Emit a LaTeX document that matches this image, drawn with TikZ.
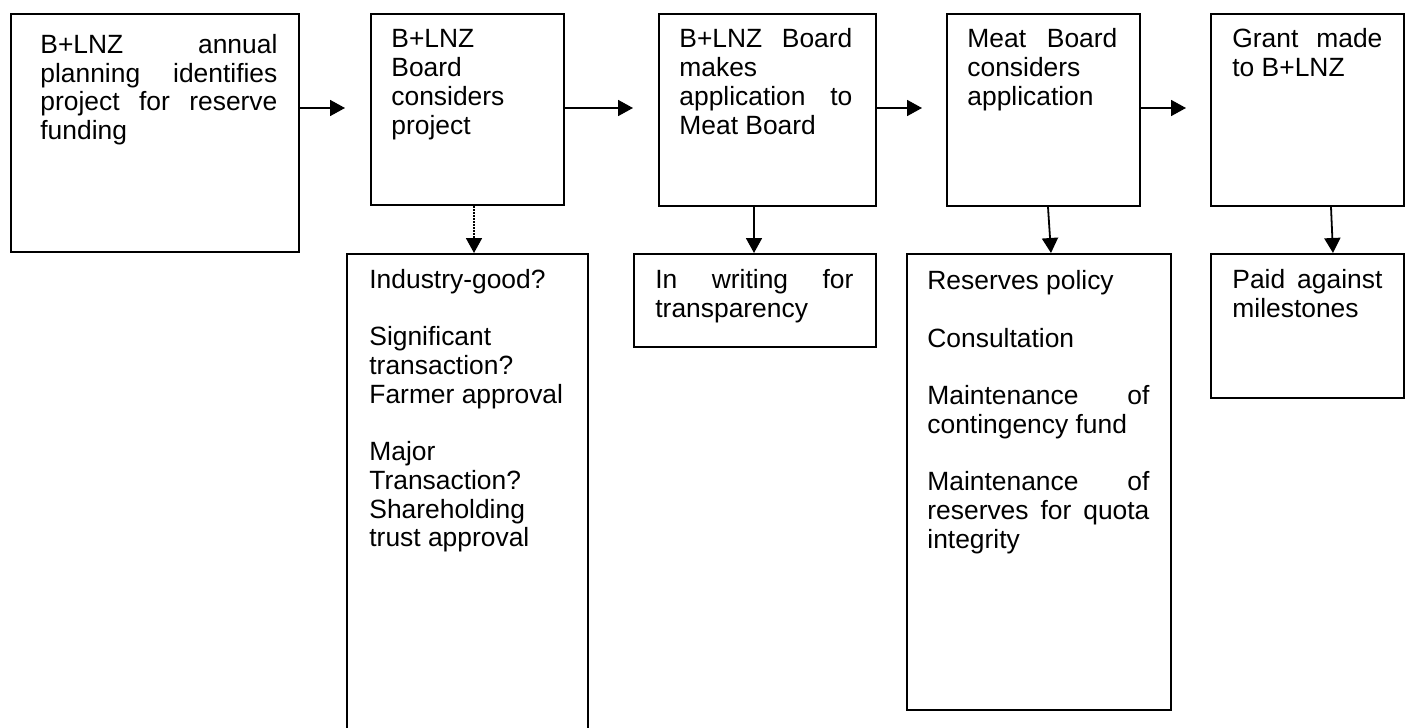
\documentclass[tikz,border=0pt]{standalone}
\usepackage{fontspec}
\setmainfont{Liberation Sans}
\usetikzlibrary{arrows.meta}
\newcommand\pgap{\par\vspace{\baselineskip}}
\tikzset{
  box/.style={draw=black, line width=1pt, inner sep=0pt, anchor=north west, rectangle},
  txt/.style={anchor=north west, inner sep=0pt, align=justify,
    font=\fontsize{13.2pt}{14.35pt}\selectfont,
    execute at begin node={\parindent=0pt\hyphenpenalty=10000\tolerance=10000\hbadness=10000\strut}},
  arr/.style={line width=0.9pt, -{Triangle[length=7.5pt,width=8pt]}},
  dotarr/.style={arr, dash pattern=on 0.75pt off 0.75pt}
}
\begin{document}
\begin{tikzpicture}[x=0.5pt,y=-0.5pt]
\useasboundingbox (0,0) rectangle (1410,728);
% upper boxes
\node[box, minimum width=144pt, minimum height=119pt] (b1) at (10,13) {};
\node[box, minimum width=96.5pt, minimum height=95.5pt] (b2) at (370,13) {};
\node[box, minimum width=108.5pt, minimum height=96pt] (b3) at (658,13) {};
\node[box, minimum width=96.5pt, minimum height=96pt] (b4) at (946,13) {};
\node[box, minimum width=96.5pt, minimum height=96pt] (b5) at (1210,13) {};
% lower boxes
\node[box, minimum width=120.5pt, minimum height=246pt] (c2) at (346,253) {};
\node[box, minimum width=121pt, minimum height=46.5pt] (c3) at (633,253) {};
\node[box, minimum width=132pt, minimum height=228pt] (c4) at (906,253) {};
\node[box, minimum width=96.5pt, minimum height=72pt] (c5) at (1210,253) {};
% texts
\node[txt, text width=118.5pt] (t1) at (40,33) {B+LNZ annual\linebreak planning identifies\linebreak project for reserve\linebreak funding};
\node[txt, text width=75.5pt] (t2) at (391,27.5) {B+LNZ\linebreak Board\linebreak considers\linebreak project};
\node[txt, text width=86.5pt] (t3) at (679,27.5) {B+LNZ Board\linebreak makes\linebreak application to\linebreak Meat Board};
\node[txt, text width=75pt] (t4) at (967,27.5) {Meat Board\linebreak considers\linebreak application};
\node[txt, text width=75pt] (t5) at (1232,27.5) {Grant made\linebreak to B+LNZ};
\node[txt, text width=99pt] (u2) at (369,268) {Industry-good?\pgap Significant\linebreak transaction?\linebreak Farmer approval\pgap Major\linebreak Transaction?\linebreak Shareholding\linebreak trust approval};
\node[txt, text width=99pt] (u3) at (655,268) {In writing for\linebreak transparency};
\node[txt, text width=111pt] (u4) at (927,269.5) {Reserves policy\pgap Consultation\pgap Maintenance of\linebreak contingency fund\pgap Maintenance of\linebreak reserves for quota\linebreak integrity};
\node[txt, text width=75pt] (u5) at (1232,268) {Paid against\linebreak milestones};
% horizontal arrows
\coordinate (ay) at (0,108);
\draw[arr, shorten >=12.5pt] (b1.east |- ay) -- (b2.west |- ay);
\draw[arr, shorten >=12.5pt] (b2.east |- ay) -- (b3.west |- ay);
\draw[arr, shorten >=12pt] (b3.east |- ay) -- (b4.west |- ay);
\draw[arr, shorten >=12pt] (b4.east |- ay) -- (b5.west |- ay);
% vertical arrows
\coordinate (v2) at (474,0);
\coordinate (v3) at (754,0);
\coordinate (v4a) at (1048,0);
\coordinate (v4b) at (1051,0);
\coordinate (v5a) at (1331,0);
\coordinate (v5b) at (1333,0);
\draw[dotarr] (b2.south -| v2) -- (c2.north -| v2);
\draw[arr] (b3.south -| v3) -- (c3.north -| v3);
\draw[arr] (b4.south -| v4a) -- (c4.north -| v4b);
\draw[arr] (b5.south -| v5a) -- (c5.north -| v5b);
\end{tikzpicture}
\end{document}
